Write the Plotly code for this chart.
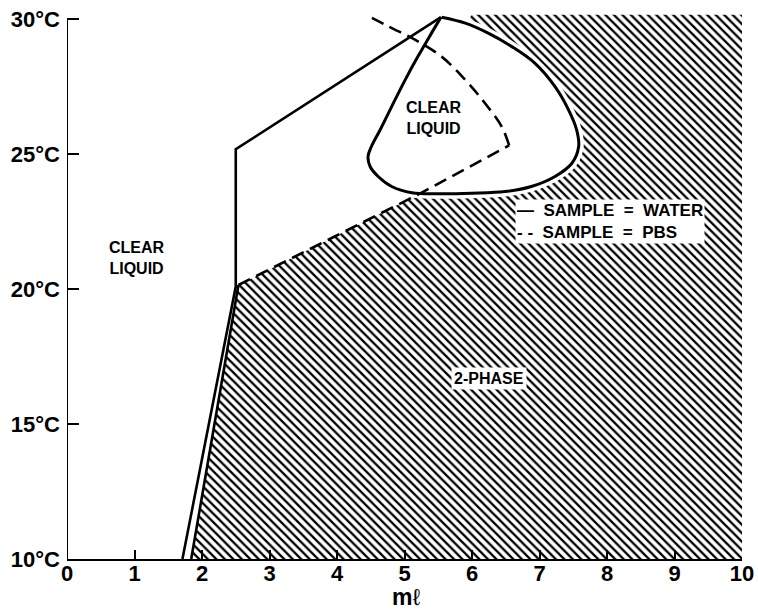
import plotly.graph_objects as go

# ---- data ----
# Water boundary (solid): lower-left branch, vertical at 2.5 mL, rising to the peak
water_x = [1.71, 2.50, 2.50, 5.54]
water_y = [10.0, 20.09, 25.18, 30.07]

# Water clear-liquid loop (solid), from the peak round the left, bottom and right back to the peak
loop_x = [5.54, 5.40, 5.20, 5.01, 4.81, 4.64, 4.51, 4.46, 4.49, 4.61, 4.81, 5.11, 5.50, 6.00,
          6.49, 6.88, 7.23, 7.48, 7.58, 7.55, 7.43, 7.23, 6.93, 6.59, 6.24, 5.90, 5.55]
loop_y = [30.07, 29.48, 28.62, 27.75, 26.76, 25.90, 25.28, 24.91, 24.54, 24.17, 23.80, 23.57, 23.53, 23.55,
          23.61, 23.80, 24.17, 24.66, 25.28, 25.90, 26.64, 27.50, 28.37, 28.98, 29.48, 29.85, 30.07]

# PBS boundary: lower branch (solid-looking), straight dashed part, curved dashed part
pbs_low_x = [1.84, 2.54]
pbs_low_y = [10.0, 20.15]
pbs_mid_x = [2.54, 5.24, 6.55]
pbs_mid_y = [20.15, 23.55, 25.32]
pbs_curve_x = [6.55, 6.44, 6.19, 5.90, 5.55, 5.16, 4.76, 4.46]
pbs_curve_y = [25.32, 26.02, 26.89, 27.75, 28.61, 29.23, 29.73, 30.12]

# 2-phase region corners not lying on a boundary curve
hatch_top_y = 30.16
hatch_top_left_x = 6.00
x_max = 10.0
y_min = 10.0

y_ticks = [10, 15, 20, 25, 30]
y_tick_text = ["10°C", "15°C", "20°C", "25°C", "30°C"]
x_ticks = [0, 1, 2, 3, 4, 5, 6, 7, 8, 9, 10]

# ---- build the 2-phase polygon from the curves ----
loop_lower_right_x = loop_x[12:26]
loop_lower_right_y = loop_y[12:26]
hatch_x = pbs_low_x + pbs_mid_x[1:2] + loop_lower_right_x + [hatch_top_left_x, x_max, x_max, pbs_low_x[0]]
hatch_y = pbs_low_y + pbs_mid_y[1:2] + loop_lower_right_y + [hatch_top_y, hatch_top_y, y_min, pbs_low_y[0]]

FONT = "Liberation Sans, Arial, Helvetica, sans-serif"

fig = go.Figure()

fig.add_trace(go.Scatter(
    x=hatch_x, y=hatch_y, mode="lines", fill="toself",
    fillcolor="white",
    fillpattern=dict(shape="\\", size=6, solidity=0.38, fgcolor="black",
                     bgcolor="white", fillmode="replace"),
    line=dict(width=0), hoverinfo="skip", showlegend=False))

# white halo around the loop (gap between loop and hatch)
fig.add_trace(go.Scatter(x=loop_x, y=loop_y, mode="lines",
                         line=dict(color="white", width=10, shape="spline"),
                         hoverinfo="skip", showlegend=False))

dash = "13px,7px"
fig.add_trace(go.Scatter(x=pbs_low_x, y=pbs_low_y, mode="lines",
                         line=dict(color="black", width=2.6), showlegend=False))
fig.add_trace(go.Scatter(x=pbs_mid_x, y=pbs_mid_y, mode="lines",
                         line=dict(color="black", width=2.6, dash=dash), showlegend=False))
fig.add_trace(go.Scatter(x=pbs_curve_x, y=pbs_curve_y, mode="lines",
                         line=dict(color="black", width=2.6, dash=dash, shape="spline"),
                         showlegend=False))

fig.add_trace(go.Scatter(x=water_x, y=water_y, mode="lines",
                         line=dict(color="black", width=2.6), showlegend=False))
fig.add_trace(go.Scatter(x=loop_x, y=loop_y, mode="lines",
                         line=dict(color="black", width=3, shape="spline"), showlegend=False))

# left axis line (only up to 30 °C)
fig.add_shape(type="line", x0=0, x1=0, y0=10, y1=30, xref="x", yref="y",
              line=dict(color="black", width=2))

lab_font = dict(family=FONT, size=16, color="black", weight="bold")
fig.add_annotation(x=1.04, y=21.14, text="CLEAR<br>LIQUID", showarrow=False,
                   font=lab_font, align="center")
fig.add_annotation(x=5.43, y=26.34, text="CLEAR<br>LIQUID", showarrow=False,
                   font=lab_font, align="center")
fig.add_annotation(x=6.25, y=16.67, text="2-PHASE", showarrow=False,
                   font=lab_font, bgcolor="white", borderpad=2)
fig.add_annotation(x=6.64, y=22.51, xanchor="left",
                   text="—  SAMPLE  =  WATER<br>- -  SAMPLE  =  PBS",
                   showarrow=False, align="left", bgcolor="white", borderpad=1,
                   font=dict(family=FONT, size=17, color="black", weight="bold"))

# x-axis title
fig.add_annotation(x=5.02, xref="x", y=-0.0925, yref="paper", yanchor="bottom",
                   text="<b>m</b>ℓ", showarrow=False, borderpad=0, borderwidth=0,
                   font=dict(family=FONT, size=23, color="black"))

fig.update_layout(
    width=758, height=610,
    margin=dict(l=67, r=16, t=11, b=51),
    plot_bgcolor="white", paper_bgcolor="white",
    showlegend=False,
    xaxis=dict(range=[0, 10], tickvals=x_ticks, ticks="inside", ticklen=9, tickwidth=1.5,
               tickcolor="black", showline=True, linecolor="black", linewidth=2,
               showgrid=False, zeroline=False, automargin=False, ticklabelstandoff=-6,
               tickfont=dict(family=FONT, size=22, color="black", weight="bold")),
    yaxis=dict(range=[10, 30.3], tickvals=y_ticks, ticktext=y_tick_text, ticks="inside",
               ticklen=12, tickwidth=1.5, tickcolor="black", showline=False,
               showgrid=False, zeroline=False, automargin=False, ticklabelstandoff=6,
               tickfont=dict(family=FONT, size=22, color="black", weight="bold")),
)

fig.write_html("out.html")
